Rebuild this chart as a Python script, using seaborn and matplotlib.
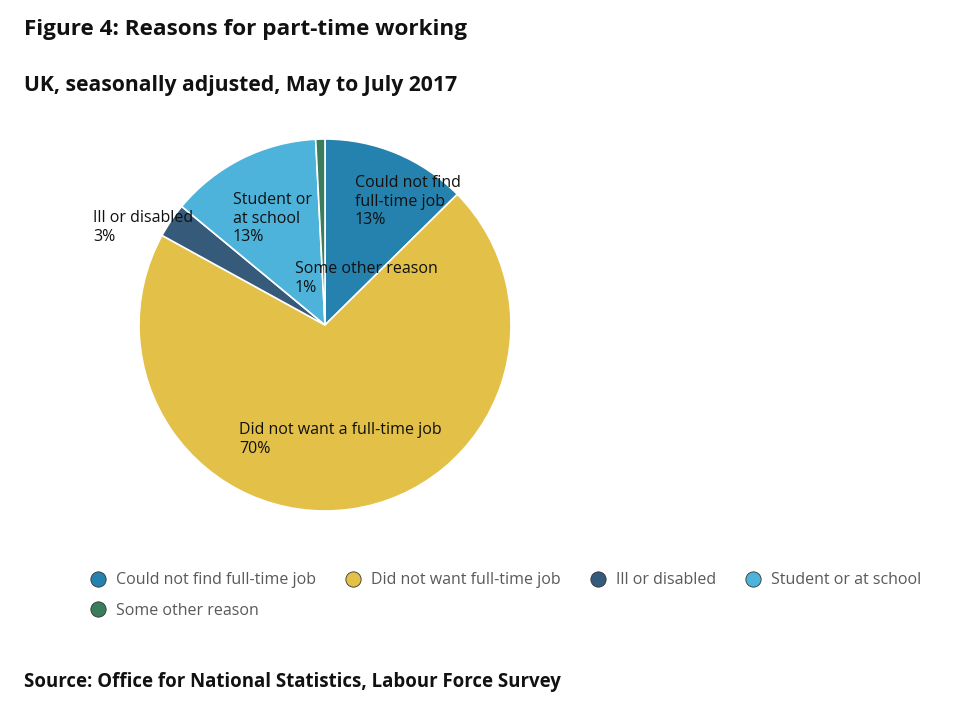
import matplotlib
matplotlib.use("Agg")
import matplotlib.pyplot as plt
from matplotlib.lines import Line2D
import seaborn as sns

# ── Data ──────────────────────────────────────────────────────────────────────
reasons = [
    "Could not find full-time job",
    "Did not want full-time job",
    "Ill or disabled",
    "Student or at school",
    "Some other reason",
]
shares = [12.6, 70.4, 3.0, 13.2, 0.8]
slice_labels = [
    "Could not find\nfull-time job",
    "Did not want a full-time job",
    "Ill or disabled",
    "Student or\nat school",
    "Some other reason",
]
colors = ["#2581ad", "#e3c048", "#355a7a", "#4eb3da", "#3a7d5d"]

sns.set_theme(style="white")
plt.rcParams["font.family"] = ["Open Sans", "DejaVu Sans"]

W, H = 960, 709
fig = plt.figure(figsize=(W / 100, H / 100), dpi=100)

# pie axes: centre (325, 325) px, radius 186 px
cx, cy, r = 325, 325, 186
ax = fig.add_axes([(cx - r) / W, (H - cy - r) / H, 2 * r / W, 2 * r / H])
wedges, _ = ax.pie(
    shares,
    colors=colors,
    startangle=90,
    counterclock=False,
    radius=1,
    wedgeprops=dict(edgecolor="white", linewidth=1.2),
)
ax.set_xlim(-1, 1)
ax.set_ylim(-1, 1)
ax.set_aspect("equal")
ax.axis("off")

# slice labels (left/top anchor in pixels)
label_pos = [(355, 175), (239, 422), (93, 210), (233, 192), (295, 261)]
for lab, val, (px, py) in zip(slice_labels, shares, label_pos):
    fig.text(px / W, 1 - py / H, f"{lab}\n{round(val)}%", ha="left", va="top",
             fontsize=11.5, color="#111111", linespacing=1.22)

# titles
fig.text(24 / W, 1 - 19 / H, "Figure 4: Reasons for part-time working",
         fontsize=16.2, fontweight="bold", color="#111111", va="top")
fig.text(24 / W, 1 - 75 / H, "UK, seasonally adjusted, May to July 2017",
         fontsize=15.2, fontweight="bold", color="#111111", va="top")
fig.text(24 / W, 1 - 672 / H, "Source: Office for National Statistics, Labour Force Survey",
         fontsize=13.4, fontweight="bold", color="#111111", va="top")

# legend: row-major order with 4 columns
handles = [Line2D([], [], marker="o", linestyle="", markersize=11,
                  markerfacecolor=c, markeredgecolor="#333333", markeredgewidth=0.6)
           for c in colors]
order = [0, 4, 1, 2, 3]
leg = fig.legend([handles[i] for i in order], [reasons[i] for i in order],
                 ncol=4, loc="upper left", bbox_to_anchor=(74 / W, 1 - 558 / H),
                 frameon=False, fontsize=11.5, handletextpad=0.55,
                 columnspacing=1.7, labelspacing=0.9, handlelength=1.2)
for t in leg.get_texts():
    t.set_color("#595959")

fig.savefig("out.png", dpi=100, facecolor="white")
